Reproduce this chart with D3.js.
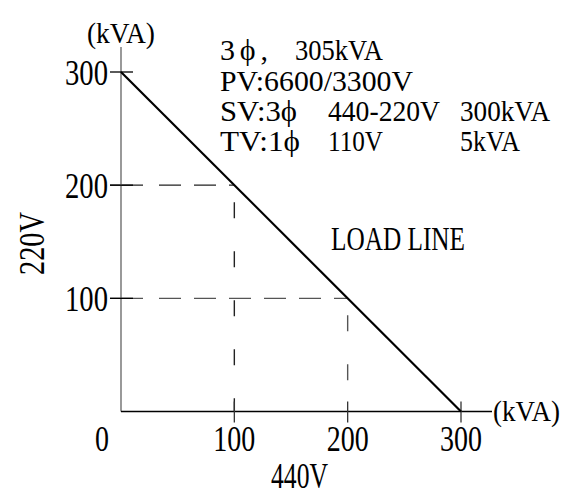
<!DOCTYPE html>
<html>
<head>
<meta charset="utf-8">
<script src="https://cdn.jsdelivr.net/npm/d3@7"></script>
<style>
  html, body { margin: 0; padding: 0; background: #fff; }
  svg { display: block; }
  text { font-family: "Liberation Serif", "DejaVu Serif", serif; fill: #000; }
</style>
</head>
<body>
<svg id="chart" width="573" height="495"></svg>
<script>
// ---- data ----
const xTickValues = [0, 100, 200, 300];
const xTickLabels = ["0", "100", "200", "300"];
const yTickValues = [100, 200, 300];
const yTickLabels = ["100", "200", "300"];
const loadLineX = [0, 300];
const loadLineY = [300, 0];
const guideX = [100, 200];
const guideY = [200, 100];
const unitLabel = "(kVA)";
const xAxisTitle = "440V";
const yAxisTitle = "220V";
const loadLineLabel = "LOAD LINE";
const specLine1 = ["3ϕ,", "305kVA"];
const specLine2 = ["PV:6600/3300V"];
const specLine3 = ["SV:3ϕ", "440-220V", "300kVA"];
const specLine4 = ["TV:1ϕ", "110V", "5kVA"];

// ---- layout ----
const svg = d3.select("#chart");
const x = d3.scaleLinear().domain([0, 300]).range([121, 461]);
const y = d3.scaleLinear().domain([0, 300]).range([411.5, 72]);

function txt(str, px, py, size, len, anchor, adjust) {
  const t = svg.append("text")
    .attr("x", px).attr("y", py)
    .attr("font-size", size)
    .attr("text-anchor", anchor || "start")
    .text(str);
  if (len) t.attr("textLength", len).attr("lengthAdjust", adjust || "spacingAndGlyphs");
  return t;
}

// guide dashed lines
guideX.forEach((gx, i) => {
  const gy = guideY[i];
  svg.append("line")
    .attr("x1", x(0) - 11).attr("y1", y(gy))
    .attr("x2", x(gx)).attr("y2", y(gy))
    .attr("stroke", i === 0 ? "#222" : "#555").attr("stroke-width", 1.4)
    .attr("stroke-dasharray", "33,16,22,13,22,13,22,13,22,13,22,13");
  svg.append("line")
    .attr("x1", x(gx)).attr("y1", y(gy))
    .attr("x2", x(gx)).attr("y2", y(0))
    .attr("stroke", i === 0 ? "#222" : "#555").attr("stroke-width", 1.4)
    .attr("stroke-dasharray", "0,17,16,16");
});

// y axis (gray)
svg.append("line")
  .attr("x1", x(0)).attr("y1", 47)
  .attr("x2", x(0)).attr("y2", y(0))
  .attr("stroke", "#808080").attr("stroke-width", 1.6);

// x axis
svg.append("line")
  .attr("x1", x(0)).attr("y1", y(0))
  .attr("x2", 492).attr("y2", y(0))
  .attr("stroke", "#000").attr("stroke-width", 1.3);

// y ticks
yTickValues.forEach(v => {
  svg.append("line")
    .attr("x1", x(0) - 11).attr("y1", y(v))
    .attr("x2", x(0) + 12).attr("y2", y(v))
    .attr("stroke", "#000").attr("stroke-width", 1.3);
});
// x ticks
xTickValues.filter(v => v > 0).forEach(v => {
  svg.append("line")
    .attr("x1", x(v)).attr("y1", y(0) - 10)
    .attr("x2", x(v)).attr("y2", y(0) + 11)
    .attr("stroke", "#333").attr("stroke-width", 1.3);
});

// load line
const line = d3.line().x(d => x(d[0])).y(d => y(d[1]));
svg.append("path")
  .datum(loadLineX.map((v, i) => [v, loadLineY[i]]))
  .attr("d", line)
  .attr("fill", "none")
  .attr("stroke", "#000").attr("stroke-width", 2.2);

// tick labels
yTickValues.forEach((v, i) => {
  txt(yTickLabels[i], x(0) - 13, y(v) + 13, 36, 43, "end");
});
xTickValues.forEach((v, i) => {
  const lbl = xTickLabels[i];
  const cx = v === 0 ? x(0) - 19 : x(v);
  txt(lbl, cx, 451, 36, lbl.length * 14, "middle");
});

// unit labels
txt(unitLabel, x(0), 43, 29, 68, "middle");
txt(unitLabel, 493, 421, 29, 67, "start");

// axis titles
txt(xAxisTitle, 271, 488, 36, 57, "start");
svg.append("text")
  .attr("transform", "translate(44,243.5) rotate(-90)")
  .attr("font-size", 36)
  .attr("text-anchor", "middle")
  .attr("textLength", 63).attr("lengthAdjust", "spacingAndGlyphs")
  .text(yAxisTitle);

// LOAD LINE label
txt(loadLineLabel, 331, 250, 33, 134, "start");

// spec annotation: texts placed at measured columns
const fs = 30;
function specLine(parts, xs, lens, py, adjusts) {
  parts.forEach((p, i) => txt(p, xs[i], py, fs, lens[i] || null, "start", adjusts && adjusts[i]));
}
specLine(specLine1, [220, 295], [48, 88], 60, ["spacing", null]);
specLine(specLine2, [220], [193], 90.5);
specLine(specLine3, [220, 328, 460], [77, 112, 90], 121);
specLine(specLine4, [220, 328, 460], [80, 55, 60], 151);
</script>
</body>
</html>
